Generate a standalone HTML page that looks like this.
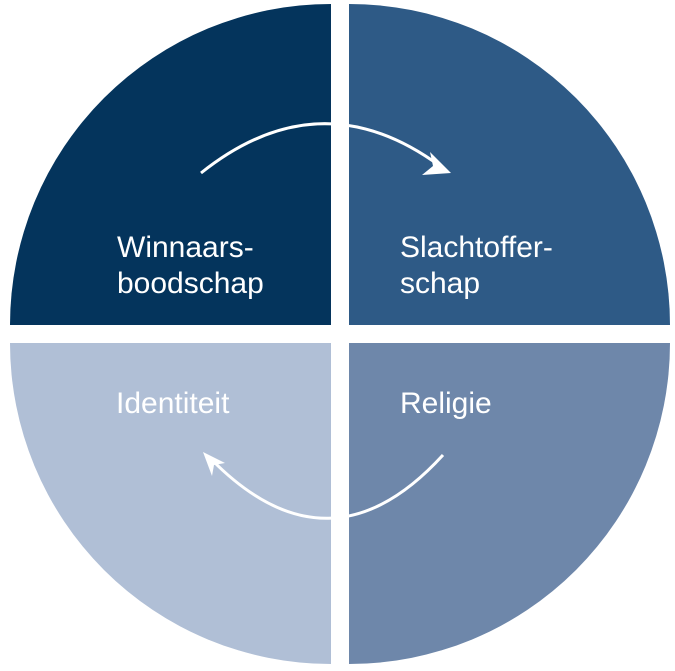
<!DOCTYPE html>
<html><head><meta charset="utf-8"><style>
html,body{margin:0;padding:0;background:#fff;}
svg{display:block;}
text{font-family:"Liberation Sans",sans-serif;font-size:30px;fill:#fff;}
</style></head><body>
<svg width="675" height="671" viewBox="0 0 675 671">
<path d="M331,325 L10,325 A321,321 0 0 1 331,4 Z" fill="#04345c"/>
<path d="M349,325 L349,4 A321,321 0 0 1 670,325 Z" fill="#2e5a86"/>
<path d="M331,343 L331,664 A321,321 0 0 1 10,343 Z" fill="#b0bfd6"/>
<path d="M349,343 L670,343 A321,321 0 0 1 349,664 Z" fill="#6e87aa"/>
<path d="M201,173 Q320,78 440,166" stroke="#fff" stroke-width="3" fill="none"/>
<path d="M430,152 L451,173 L422,175 L433,166 Z" fill="#fff"/>
<path d="M443,455 Q330,579 212,460" stroke="#fff" stroke-width="3" fill="none"/>
<path d="M203,452 L225,463 L214,465 L212,476 Z" fill="#fff"/>
<text x="117" y="257">Winnaars-</text>
<text x="117" y="293">boodschap</text>
<text x="400" y="257">Slachtoffer-</text>
<text x="400" y="293">schap</text>
<text x="116" y="413">Identiteit</text>
<text x="400" y="413">Religie</text>
</svg>
</body></html>
